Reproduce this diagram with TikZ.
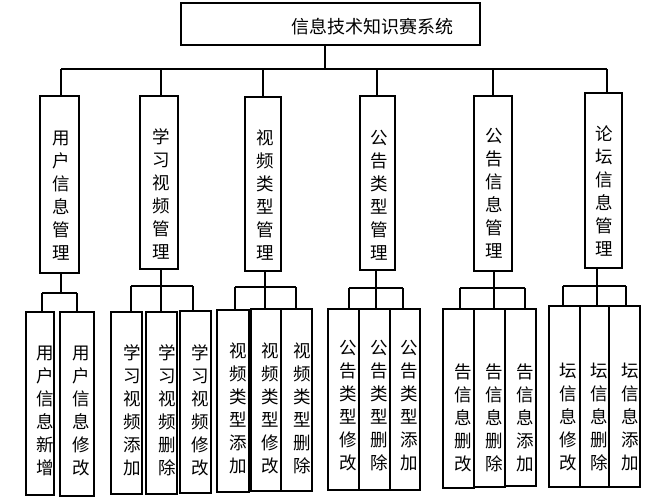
\documentclass[tikz,border=0pt]{standalone}
\usepackage{fontspec}
\newfontfamily\cjk{Noto Sans CJK SC}
\usetikzlibrary{fit}
\begin{document}
\begin{tikzpicture}[x=1pt,y=-1pt,
  box/.style={draw, line width=1.4pt, inner sep=0pt, rectangle},
  wire/.style={draw, line width=1.3pt},
  vtxt/.style={font=\cjk\fontsize{17.5}{23}\selectfont, align=center, inner sep=0pt},
  ttl/.style={font=\cjk\fontsize{18}{20}\selectfont, inner sep=0pt}]
\useasboundingbox[fill=white] (0,0) rectangle (667,500);

% top box
\node[box, fit={(181,3) (480,45)}] (top) {};
\node[ttl] (toptxt) at (372,27) {信息技术知识赛系统};

% level 2 boxes
\node[box, fit={(40,96) (79,273)}] (m1) {};
\node[box, fit={(140,96) (178,269)}] (m2) {};
\node[box, fit={(245,97) (281,271)}] (m3) {};
\node[box, fit={(360,96) (395,270)}] (m4) {};
\node[box, fit={(474,96) (512,271)}] (m5) {};
\node[box, fit={(585,93) (622,268)}] (m6) {};

\node[vtxt] (t1) at (61.5,196) {用\\户\\信\\息\\管\\理};
\node[vtxt] (t2) at (161,194) {学\\习\\视\\频\\管\\理};
\node[vtxt] (t3) at (265,195) {视\\频\\类\\型\\管\\理};
\node[vtxt] (t4) at (379,195) {公\\告\\类\\型\\管\\理};
\node[vtxt] (t5) at (494,193.5) {公\\告\\信\\息\\管\\理};
\node[vtxt] (t6) at (604,191.5) {论\\坛\\信\\息\\管\\理};

% top bus
\coordinate (tb) at (325,69);
\coordinate (b1) at (61,69);
\coordinate (b2) at (161,69);
\coordinate (b3) at (263,69);
\coordinate (b4) at (377,69);
\coordinate (b5) at (493,69);
\coordinate (b6) at (607,69);
\draw[wire] (top.south -| tb) -- (tb);
\draw[wire] (b1) -- (b6);
\foreach \i in {1,...,6} {\draw[wire] (b\i) -- (b\i |- m\i.north);}

% level 3 boxes
\node[box, fit={(26,312) (54,495)}] (s1a) {};
\node[box, fit={(60,312) (94,496)}] (s1b) {};
\node[box, fit={(111,312) (142,494)}] (s2a) {};
\node[box, fit={(146,312) (177,494)}] (s2b) {};
\node[box, fit={(180,311) (211,493)}] (s2c) {};
\node[box, fit={(217,310) (249,492)}] (s3a) {};
\node[box, fit={(251,309) (281,491)}] (s3b) {};
\node[box, fit={(281,309) (312,491)}] (s3c) {};
\node[box, fit={(328,309) (359,490)}] (s4a) {};
\node[box, fit={(359,309) (390,490)}] (s4b) {};
\node[box, fit={(390,309) (420,490)}] (s4c) {};
\node[box, fit={(443,309) (474,488)}] (s5a) {};
\node[box, fit={(474,309) (505,487)}] (s5b) {};
\node[box, fit={(505,309) (536,486)}] (s5c) {};
\node[box, fit={(549,306) (580,487)}] (s6a) {};
\node[box, fit={(580,306) (609,487)}] (s6b) {};
\node[box, fit={(609,306) (640,487)}] (s6c) {};

% level 3 texts
\node[vtxt] (u1a) at (45,411) {用\\户\\信\\息\\新\\增};
\node[vtxt] (u1b) at (81,411) {用\\户\\信\\息\\修\\改};
\node[vtxt] (u2a) at (132,410) {学\\习\\视\\频\\添\\加};
\node[vtxt] (u2b) at (167,410) {学\\习\\视\\频\\删\\除};
\node[vtxt] (u2c) at (200,410) {学\\习\\视\\频\\修\\改};
\node[vtxt] (u3a) at (238,408) {视\\频\\类\\型\\添\\加};
\node[vtxt] (u3b) at (270,408) {视\\频\\类\\型\\修\\改};
\node[vtxt] (u3c) at (302,408) {视\\频\\类\\型\\删\\除};
\node[vtxt] (u4a) at (348,405.5) {公\\告\\类\\型\\修\\改};
\node[vtxt] (u4b) at (379,405.5) {公\\告\\类\\型\\删\\除};
\node[vtxt] (u4c) at (409,405.5) {公\\告\\类\\型\\添\\加};
\node[vtxt] (u5a) at (463,418) {告\\信\\息\\删\\改};
\node[vtxt] (u5b) at (494,418) {告\\信\\息\\删\\除};
\node[vtxt] (u5c) at (525,418) {告\\信\\息\\添\\加};
\node[vtxt] (u6a) at (568,417) {坛\\信\\息\\修\\改};
\node[vtxt] (u6b) at (599,417) {坛\\信\\息\\删\\除};
\node[vtxt] (u6c) at (630,417) {坛\\信\\息\\添\\加};

% group buses
\coordinate (g1) at (61,293);  \coordinate (g1a) at (42,293);  \coordinate (g1b) at (77,293);
\draw[wire] (m1.south -| g1) -- (g1);
\draw[wire] (g1a) -- (g1b);
\draw[wire] (g1a) -- (g1a |- s1a.north);
\draw[wire] (g1b) -- (g1b |- s1b.north);

\coordinate (g2) at (161,286); \coordinate (g2a) at (131,286); \coordinate (g2c) at (193,286);
\draw[wire] (m2.south -| g2) -- (g2);
\draw[wire] (g2a) -- (g2c);
\draw[wire] (g2a) -- (g2a |- s2a.north);
\draw[wire] (g2) -- (g2 |- s2b.north);
\draw[wire] (g2c) -- (g2c |- s2c.north);

\coordinate (g3) at (265,287); \coordinate (g3a) at (235,287); \coordinate (g3c) at (296,287);
\draw[wire] (m3.south -| g3) -- (g3);
\draw[wire] (g3a) -- (g3c);
\draw[wire] (g3a) -- (g3a |- s3a.north);
\draw[wire] (g3) -- (g3 |- s3b.north);
\draw[wire] (g3c) -- (g3c |- s3c.north);

\coordinate (g4) at (376,288); \coordinate (g4a) at (349,288); \coordinate (g4c) at (403,288);
\draw[wire] (m4.south -| g4) -- (g4);
\draw[wire] (g4a) -- (g4c);
\draw[wire] (g4a) -- (g4a |- s4a.north);
\draw[wire] (g4) -- (g4 |- s4b.north);
\draw[wire] (g4c) -- (g4c |- s4c.north);

\coordinate (g5) at (494,288); \coordinate (g5a) at (460,288); \coordinate (g5c) at (525,288);
\draw[wire] (m5.south -| g5) -- (g5);
\draw[wire] (g5a) -- (g5c);
\draw[wire] (g5a) -- (g5a |- s5a.north);
\draw[wire] (g5) -- (g5 |- s5b.north);
\draw[wire] (g5c) -- (g5c |- s5c.north);

\coordinate (g6) at (597,286); \coordinate (g6a) at (563,286); \coordinate (g6c) at (626,286);
\draw[wire] (m6.south -| g6) -- (g6);
\draw[wire] (g6a) -- (g6c);
\draw[wire] (g6a) -- (g6a |- s6a.north);
\draw[wire] (g6) -- (g6 |- s6b.north);
\draw[wire] (g6c) -- (g6c |- s6c.north);
\end{tikzpicture}
\end{document}
